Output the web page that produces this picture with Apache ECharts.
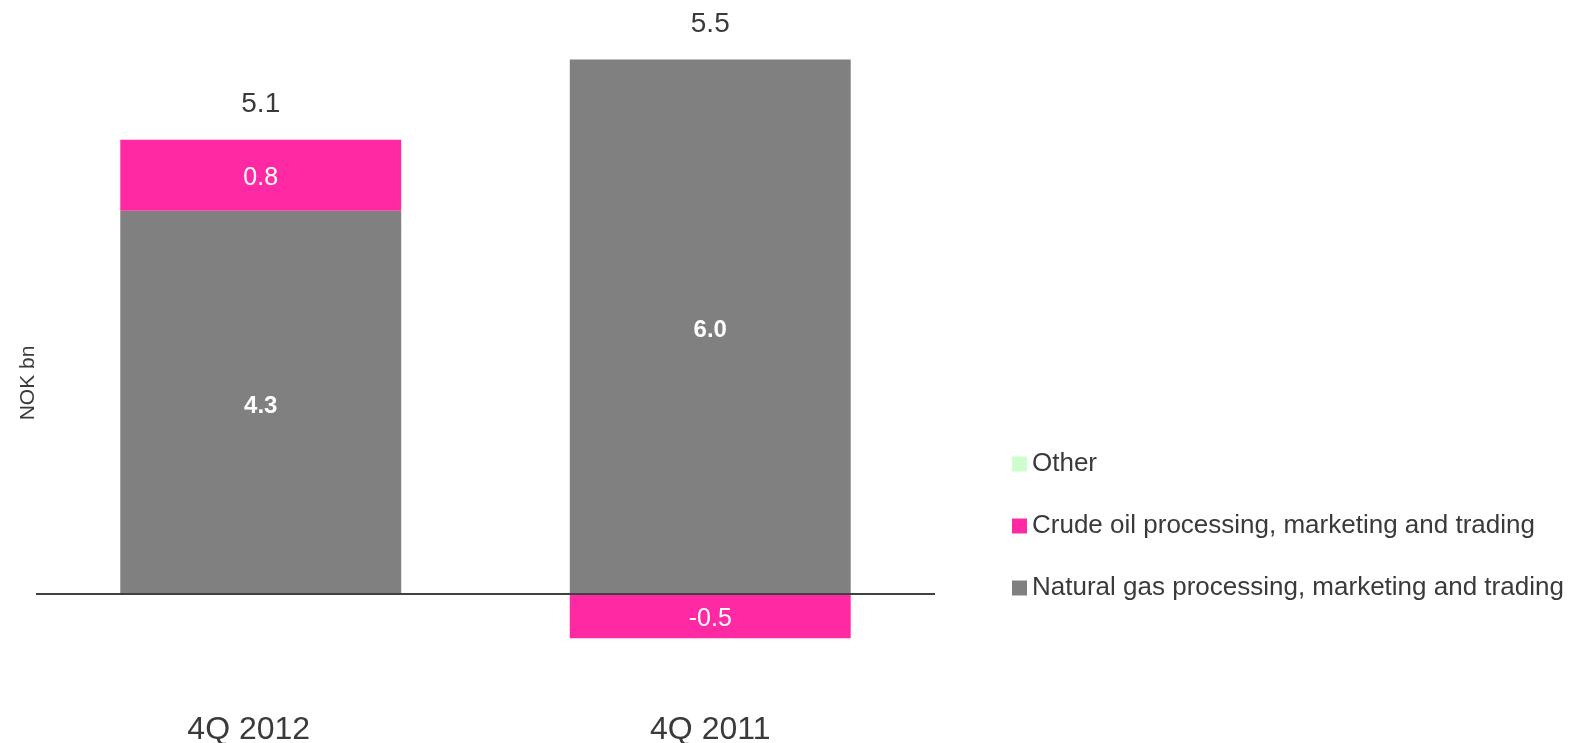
<!DOCTYPE html>
<html>
<head>
<meta charset="utf-8">
<script src="https://cdn.jsdelivr.net/npm/echarts@6/dist/echarts.min.js"></script>
<style>
  html, body { margin: 0; padding: 0; background: #fff; }
  #chart { width: 1570px; height: 743px; }
</style>
</head>
<body>
<div id="chart"></div>
<script>
// Values (NOK bn)
const categories = ["4Q 2012", "4Q 2011"];
const naturalGas = [4.3, 6.0];
const crudeOil = [0.8, -0.5];
const other = [0, 0];

const seriesNames = [
  "Natural gas processing, marketing and trading",
  "Crude oil processing, marketing and trading",
  "Other",
];

const font = "Liberation Sans, Arial, sans-serif";
const textColor = "#3a3a3a";

// totals go above the top of the positive stack
const totals = categories.map((_, i) => naturalGas[i] + crudeOil[i] + other[i]);
const positiveTop = categories.map((_, i) =>
  [naturalGas[i], crudeOil[i], other[i]].reduce((s, v) => s + Math.max(0, v), 0)
);

// the first category label sits a little left of its bar in the original
const categoryData = categories.map((c, i) =>
  i === 0 ? { value: c, textStyle: { padding: [0, 24, 0, 0] } } : c
);

const chart = echarts.init(document.getElementById("chart"));

chart.setOption({
  backgroundColor: "#fff",
  animation: false,
  textStyle: { fontFamily: font },
  grid: { left: 36, right: 635, top: 15, bottom: 38, outerBoundsMode: "none" },
  legend: {
    orient: "vertical",
    left: 1012,
    top: 451,
    padding: 0,
    itemWidth: 15,
    itemHeight: 15,
    itemGap: 36,
    icon: "rect",
    data: ["Other", seriesNames[1], seriesNames[0]],
    textStyle: { fontSize: 26, lineHeight: 26, color: textColor, fontFamily: font },
  },
  graphic: [
    {
      type: "text",
      x: 28,
      y: 383,
      rotation: Math.PI / 2,
      style: {
        text: "NOK bn",
        fontSize: 21,
        fontFamily: font,
        fill: textColor,
        align: "center",
        verticalAlign: "middle",
      },
    },
  ],
  xAxis: {
    type: "category",
    data: categoryData,
    axisLine: { show: false, onZero: false },
    axisTick: { show: false },
    axisLabel: { fontSize: 32, color: textColor, margin: 9, fontFamily: font },
  },
  yAxis: {
    type: "value",
    min: -1.25,
    max: 6.5,
    show: false,
  },
  series: [
    {
      name: seriesNames[0],
      type: "bar",
      stack: "total",
      barWidth: "62.5%",
      data: naturalGas,
      itemStyle: { color: "#808080" },
      label: {
        show: true,
        position: "inside",
        offset: [0, 4],
        color: "#fff",
        fontSize: 24,
        fontWeight: "bold",
        fontFamily: font,
        formatter: p => p.value.toFixed(1),
      },
      markLine: {
        silent: true,
        symbol: "none",
        label: { show: false },
        lineStyle: { color: "#404040", width: 2, type: "solid" },
        data: [{ yAxis: 0 }],
        z: 10,
      },
    },
    {
      name: seriesNames[1],
      type: "bar",
      stack: "total",
      data: crudeOil,
      itemStyle: { color: "#ff2aa3" },
      label: {
        show: true,
        position: "inside",
        offset: [0, 3],
        color: "#fff",
        fontSize: 25,
        fontFamily: font,
        formatter: p => p.value.toFixed(1),
      },
    },
    {
      name: seriesNames[2],
      type: "bar",
      stack: "total",
      data: other,
      itemStyle: { color: "#ccffcc" },
    },
    {
      name: "Total",
      type: "scatter",
      symbolSize: 0,
      silent: true,
      data: positiveTop,
      itemStyle: { opacity: 1 },
      label: {
        show: true,
        position: "top",
        distance: 21,
        color: textColor,
        opacity: 1,
        fontSize: 28,
        fontFamily: font,
        formatter: p => totals[p.dataIndex].toFixed(1),
      },
      z: 5,
    },
  ],
});

window.addEventListener("resize", () => chart.resize());
</script>
</body>
</html>
